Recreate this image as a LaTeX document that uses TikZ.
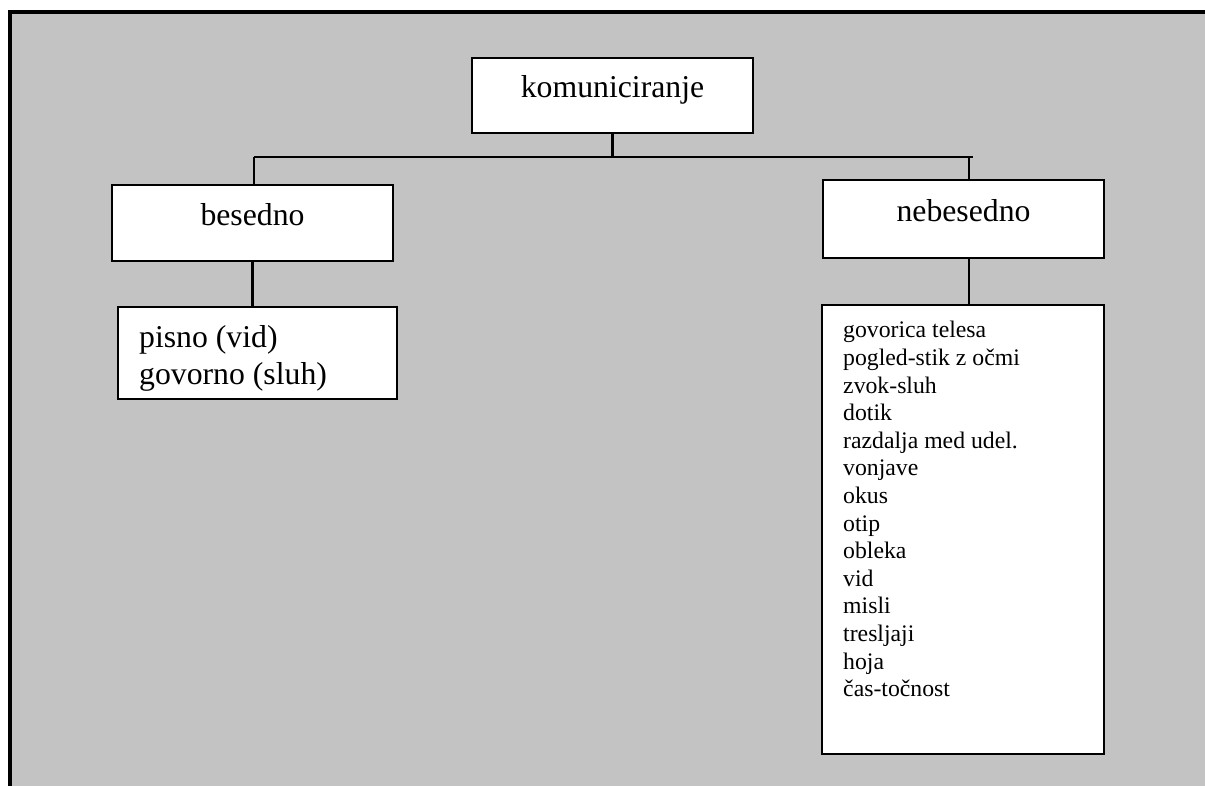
\documentclass[tikz,border=0pt]{standalone}
\usepackage{fontspec}
\setmainfont{Liberation Serif}
\definecolor{bggray}{RGB}{195,195,195}
\def\px{0.75pt}
\tikzset{
  box/.style={draw=black, fill=white, line width=1.8pt, inner xsep=0pt, inner ysep=0pt,
    font=\fontsize{23.8}{27.75}\selectfont},
  link/.style={line width=1.7pt},
}
\begin{document}
\begin{tikzpicture}[x=0.75pt,y=-0.75pt]
\useasboundingbox (0,0) rectangle (1205,785);
\clip (0,0) rectangle (1205,785);
\fill[white] (0,0) rectangle (1205,785);
\fill[bggray] (10,12) rectangle (1215,800);
\draw[line width=2.5pt] (10,800) -- (10,12) -- (1215,12);

% top box
\node[box, anchor=north, minimum width=281*\px, text height=39*\px, text depth=36*\px]
  (k) at (612.5,57) {komuniciranje};
% level 2
\node[box, anchor=north, minimum width=281*\px, text height=40*\px, text depth=36*\px]
  (b) at (252.5,184) {besedno};
\node[box, anchor=north, minimum width=281*\px, text height=41*\px, text depth=37*\px]
  (n) at (963.5,179) {nebesedno};
% level 3
\node[box, anchor=north west, inner xsep=21*\px, text height=40*\px, text depth=52*\px]
  (p) at (117,306) {\parbox[t]{177.75pt}{pisno (vid)\\govorno (sluh)}};
\node[box, anchor=north west, inner xsep=21*\px, text height=32.7*\px, text depth=416.3*\px,
  font=\fontsize{17.8}{20.7}\selectfont]
  (l) at (821,304) {\parbox[t]{180pt}{govorica telesa\\pogled-stik z očmi\\zvok-sluh\\dotik\\razdalja med udel.\\vonjave\\okus\\otip\\obleka\\vid\\misli\\tresljaji\\hoja\\čas-točnost}};

% connectors
\coordinate (hl) at (254,157);
\coordinate (hr) at (973,157);
\coordinate (hn) at (969,157);
\draw[link] (k.south) -- (k.south |- hl);
\draw[link] (hl) -- (hr);
\draw[link] (hl) -- (hl |- b.north);
\draw[link] (hn) -- (hn |- n.north);
\draw[link] (b.south) -- (b.south |- p.north);
\draw[link] (hn |- n.south) -- (hn |- l.north);
\end{tikzpicture}
\end{document}
